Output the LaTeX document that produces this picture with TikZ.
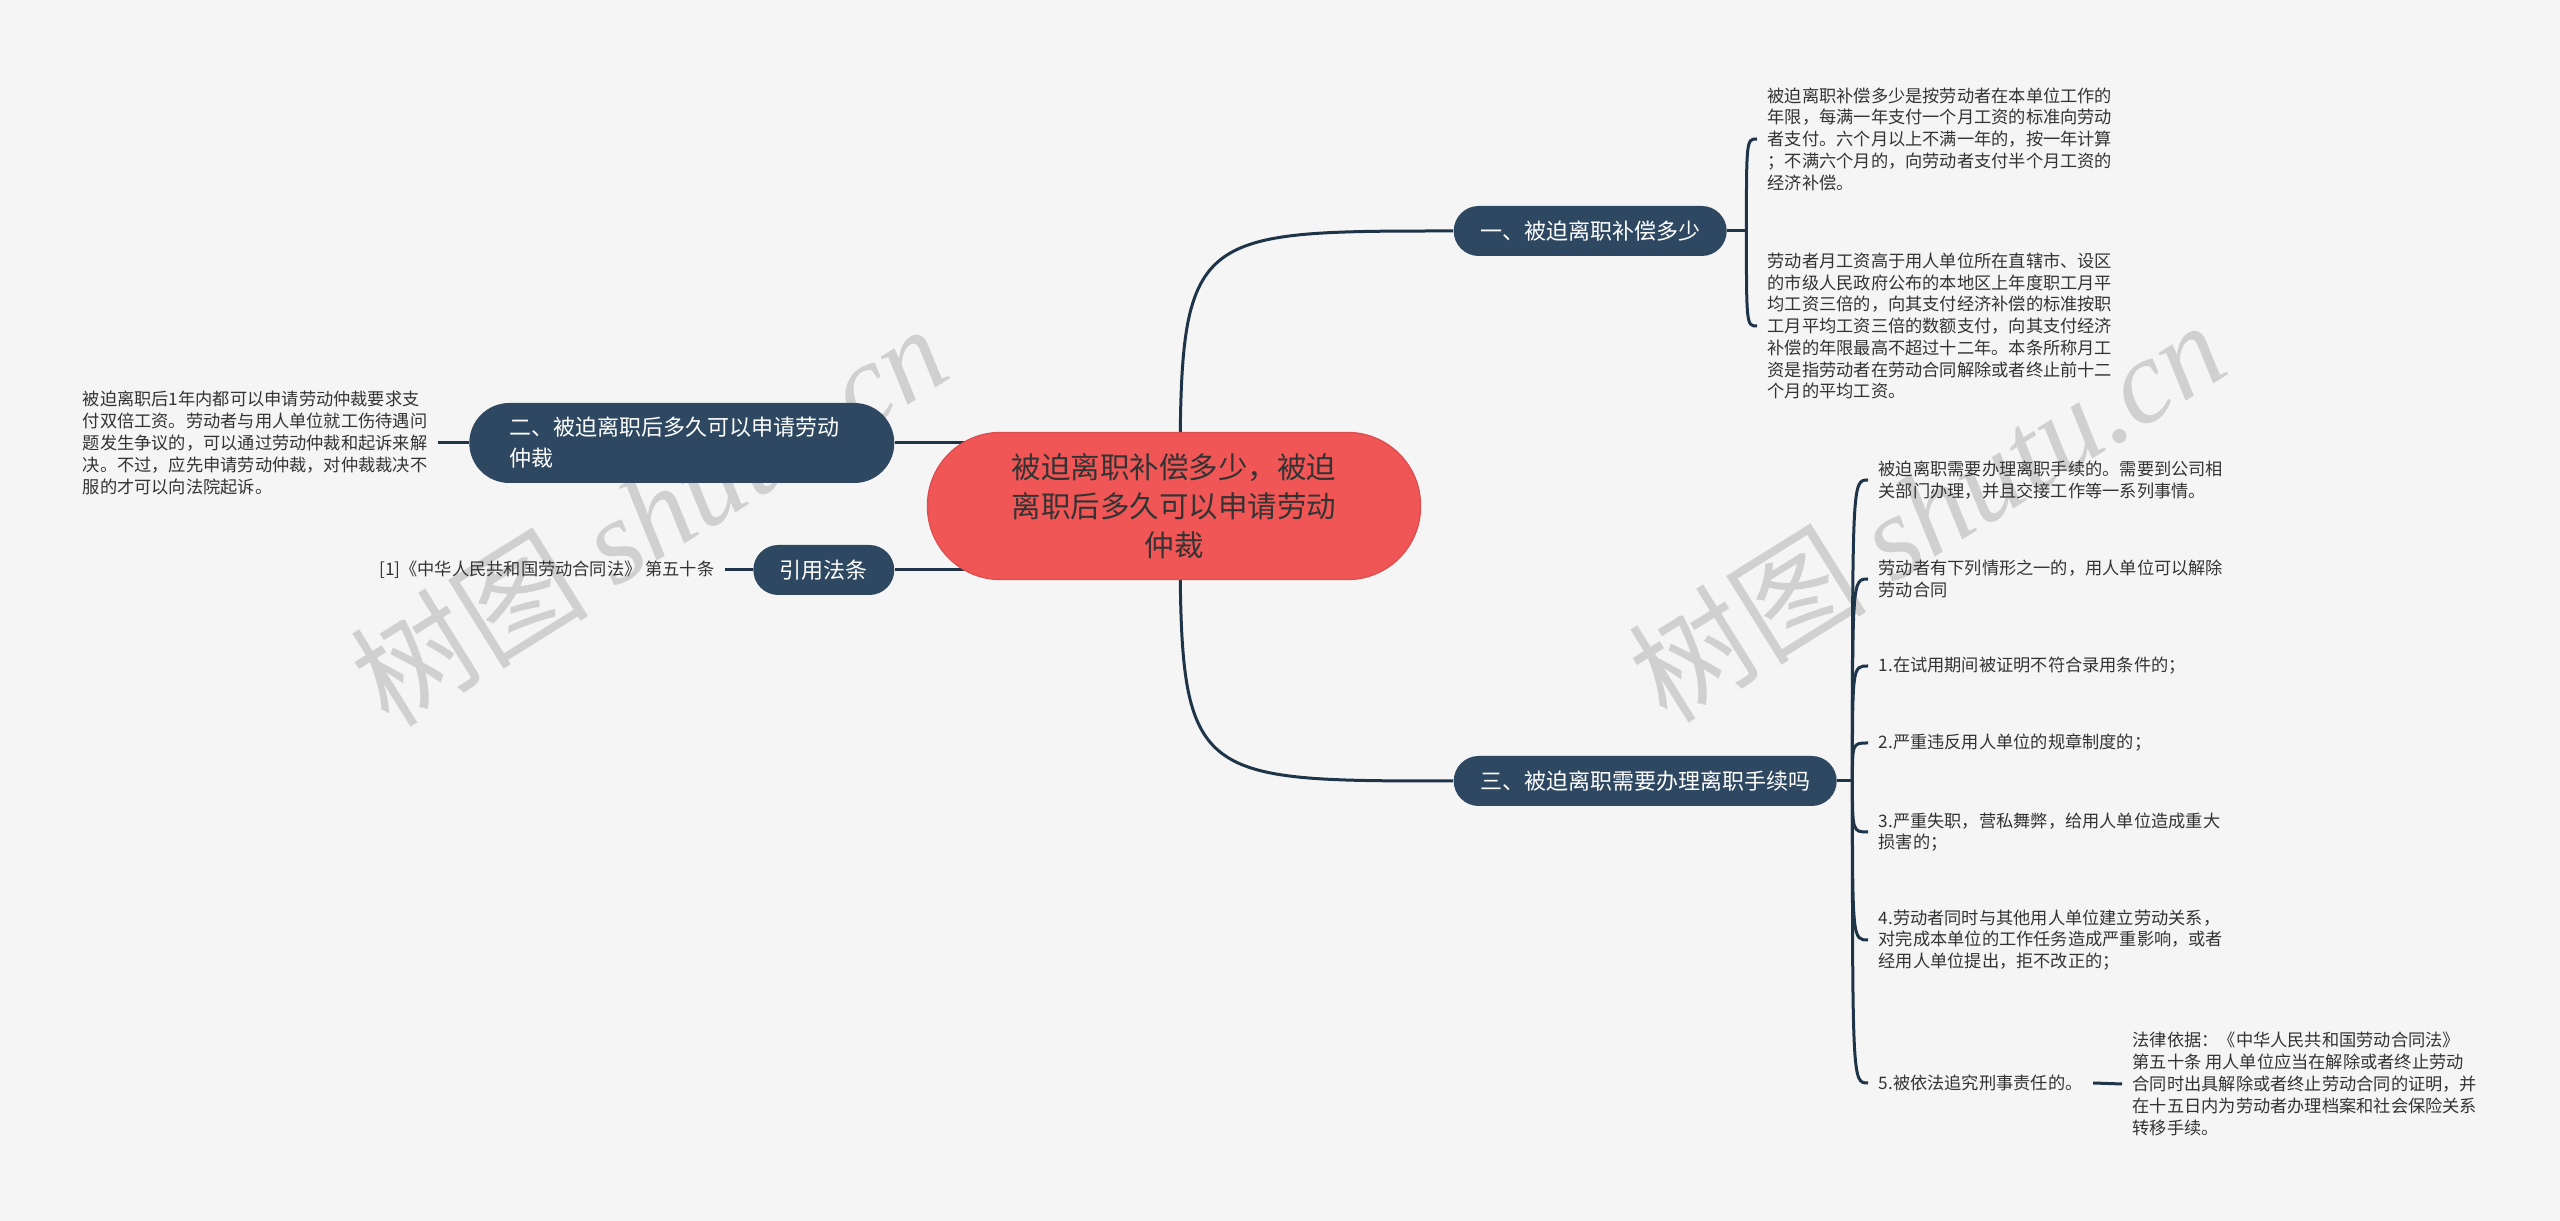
\documentclass[tikz,border=0pt]{standalone}
\usepackage{fontspec}
\setmainfont{Noto Sans CJK SC}
\newfontfamily\wmserif{Liberation Serif}
\usetikzlibrary{positioning,backgrounds,calc}

\definecolor{bgpaper}{HTML}{F5F5F5}
\definecolor{rootred}{HTML}{F05656}
\definecolor{topicblue}{HTML}{2E4862}
\definecolor{linkblue}{HTML}{1E3448}
\definecolor{leaftext}{HTML}{333333}
\definecolor{wmgrey}{HTML}{D0D0D0}

\begin{document}
\begin{tikzpicture}[
    x=0.1mm, y=-0.1mm,
    root/.style={rectangle, rounded corners=7.3mm, fill=rootred, draw=rootred!92!black, text=leaftext, minimum width=49.3mm, minimum height=14.7mm, align=center, font=\fontsize{8.4}{11.1}\selectfont},
    topic/.style={rectangle, rounded corners=2.5mm, fill=topicblue, text=white, minimum height=5mm, inner xsep=2.65mm, font=\fontsize{6.26}{8.8}\selectfont},
    leaf/.style={inner xsep=1mm, inner ysep=0.5mm, align=left, text=leaftext, font=\fontsize{4.9}{6.2}\selectfont},
    link/.style={draw=linkblue, line width=0.3mm},
    watermark/.style={text=wmgrey, rotate=32, font=\fontsize{34}{34}\selectfont}
]

% Root and main topics
\node [root] (root) at (1174,506) {被迫离职补偿多少，被迫\\离职后多久可以申请劳动\\仲裁};
\node [topic, anchor=west] (comp) at (1453,231) {一、被迫离职补偿多少};
\node [topic, anchor=west] (proc) at (1453,781) {三、被迫离职需要办理离职手续吗};
\node [topic, anchor=east, rounded corners=4mm, minimum height=8mm, inner xsep=4mm, text width=34.5mm, align=left] (time) at (895,443) {二、被迫离职后多久可以申请劳动\\仲裁};
\node [topic, anchor=east] (law) at (895,570) {引用法条};

% Left leaves
\node [leaf, anchor=east] (timeleaf) at (438,443) {被迫离职后1年内都可以申请劳动仲裁要求支\\付双倍工资。劳动者与用人单位就工伤待遇问\\题发生争议的，可以通过劳动仲裁和起诉来解\\决。不过，应先申请劳动仲裁，对仲裁裁决不\\服的才可以向法院起诉。};
\node [leaf, anchor=east] (lawleaf) at (725,570) {[1]《中华人民共和国劳动合同法》 第五十条};

% Leaves of topic one
\node [leaf, anchor=west] (compA) at (1757,139) {被迫离职补偿多少是按劳动者在本单位工作的\\年限，每满一年支付一个月工资的标准向劳动\\者支付。六个月以上不满一年的，按一年计算\\；不满六个月的，向劳动者支付半个月工资的\\经济补偿。};
\node [leaf, anchor=west] (compB) at (1757,326) {劳动者月工资高于用人单位所在直辖市、设区\\的市级人民政府公布的本地区上年度职工月平\\均工资三倍的，向其支付经济补偿的标准按职\\工月平均工资三倍的数额支付，向其支付经济\\补偿的年限最高不超过十二年。本条所称月工\\资是指劳动者在劳动合同解除或者终止前十二\\个月的平均工资。};

% Leaves of topic three
\node [leaf, anchor=west] (procA) at (1868,480) {被迫离职需要办理离职手续的。需要到公司相\\关部门办理，并且交接工作等一系列事情。};
\node [leaf, anchor=west] (procB) at (1868,579) {劳动者有下列情形之一的，用人单位可以解除\\劳动合同};
\node [leaf, anchor=west] (procC) at (1868,666) {1.在试用期间被证明不符合录用条件的；};
\node [leaf, anchor=west] (procD) at (1868,743) {2.严重违反用人单位的规章制度的；};
\node [leaf, anchor=west] (procE) at (1868,832) {3.严重失职，营私舞弊，给用人单位造成重大\\损害的；};
\node [leaf, anchor=west] (procF) at (1868,940) {4.劳动者同时与其他用人单位建立劳动关系，\\对完成本单位的工作任务造成严重影响，或者\\经用人单位提出，拒不改正的；};
\node [leaf, anchor=west] (procG) at (1868,1083) {5.被依法追究刑事责任的。};
\node [leaf, anchor=west] (basis) at (2122,1084) {法律依据：《中华人民共和国劳动合同法》\\第五十条 用人单位应当在解除或者终止劳动\\合同时出具解除或者终止劳动合同的证明，并\\在十五日内为劳动者办理档案和社会保险关系\\转移手续。};

\coordinate (rootc) at ([xshift=0.6mm]root.center);
\coordinate (compj) at ([xshift=1.9mm]comp.east);
\coordinate (procj) at ([xshift=1.5mm]proc.east);

\begin{scope}[on background layer]
\fill [bgpaper] (0,0) rectangle (2560,1221);
\node [watermark] (wmleft) at (648,514) {树图 {\wmserif\itshape shutu.cn}};
\node [watermark] (wmright) at (1926,510) {树图 {\wmserif\itshape shutu.cn}};

% Root links
\draw [link] (rootc) .. controls (rootc |- comp.west) .. (comp.west);
\draw [link] (rootc) .. controls (rootc |- proc.west) .. (proc.west);
\draw [link] (time.east) -- ([xshift=6mm]root.west |- time.east);
\draw [link] (law.east) -- ([xshift=6mm]root.west |- law.east);

% Left links
\draw [link] (time.west) -- (timeleaf.east);
\draw [link] (law.west) -- (lawleaf.east);

% Brackets
\draw [link] (comp.east) -- (compj);
\foreach \leafname in {compA, compB}
    \draw [link] (compj) .. controls (compj |- \leafname.west) .. (\leafname.west);
\draw [link] (proc.east) -- (procj);
\foreach \leafname in {procA, procB, procC, procD, procE, procF, procG}
    \draw [link] (procj) .. controls (procj |- \leafname.west) .. (\leafname.west);
\draw [link] (procG.east) -- (basis.west);
\end{scope}

\end{tikzpicture}
\end{document}
